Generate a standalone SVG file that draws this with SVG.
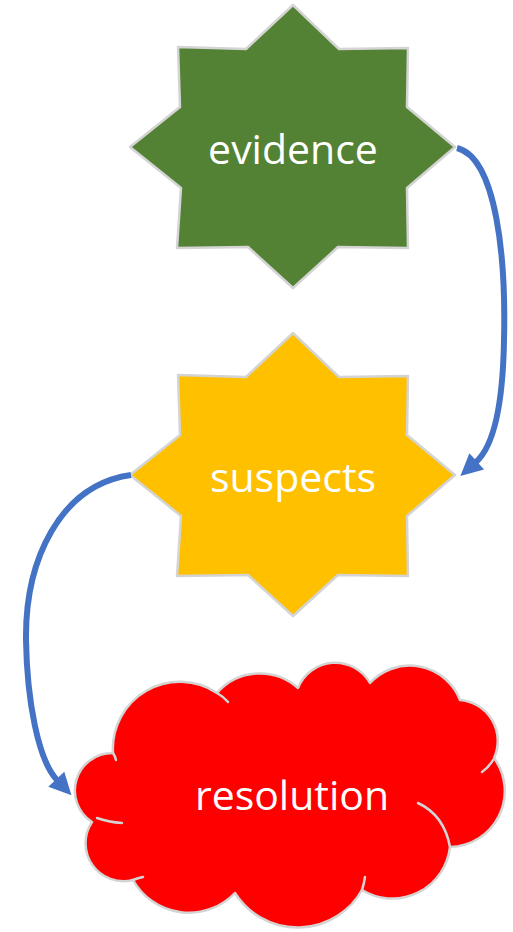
<svg xmlns="http://www.w3.org/2000/svg" width="513" height="932" viewBox="0 0 513 932">
  <style>
    .outline { stroke: #d4d4d4; stroke-width: 2.5; stroke-linejoin: round; }
    .crease { fill: none; stroke: #d4d4d4; stroke-width: 2.5; stroke-linecap: round; }
    .label { font-family: "Open Sans", "Noto Sans", sans-serif; font-size: 41px; fill: #ffffff; text-anchor: middle; }
    .conn { fill: none; stroke: #4472C4; stroke-width: 6; }
  </style>
  <defs>
    <polygon id="star8" points="0,-142 46,-98 115,-99 114,-40 162,0 114,41 115,101 45,100 0,141 -45,100 -116,101 -112,41 -163,0 -113,-40 -115,-100 -47,-98"/>
    <marker id="arrow" markerUnits="userSpaceOnUse" markerWidth="26" markerHeight="26" viewBox="-2 -12 26 24" refX="1" refY="0" orient="auto">
      <path d="M0,-11 L22,0 L0,11 Z" fill="#4472C4"/>
    </marker>
  </defs>
  <rect width="513" height="932" fill="#ffffff"/>

  <g id="evidence">
    <use href="#star8" x="293" y="147" fill="#548235" class="outline"/>
    <text class="label" x="293" y="164">evidence</text>
  </g>

  <g id="suspects">
    <use href="#star8" x="293" y="475" fill="#FFC000" class="outline"/>
    <text class="label" x="293" y="492">suspects</text>
  </g>

  <g id="resolution">
    <path class="outline" fill="#FF0000" d="M113,753 A67,67 0 0 1 217,693 A57,57 0 0 1 298,688 A40,40 0 0 1 370,683 A54,54 0 0 1 460,700 A41,41 0 0 1 494,758 A56,56 0 0 1 450,847 A58,58 0 0 1 362,890 A74,74 0 0 1 235,893 A64,64 0 0 1 133,880 A38,38 0 0 1 92,822 A37.5,37.5 0 0 1 113,753 Z"/>
    <path class="crease" d="M217,693 Q224,697 228,702"/>
    <path class="crease" d="M493,760 Q489,767 482,772"/>
    <path class="crease" d="M418,803 Q444,815 450,847"/>
    <path class="crease" d="M362,890 Q364,884 365,877"/>
    <path class="crease" d="M133,880 Q138,878 143,877"/>
    <path class="crease" d="M97,818 Q108,822 122,823"/>
    <path class="crease" d="M113,753 Q115,756 116,760"/>
    <text class="label" x="292" y="810">resolution</text>
  </g>

  <g id="connectors">
    <path class="conn" d="M457,148 C497,158 506,260 504,340 C503,400 495,445 476,462" marker-end="url(#arrow)"/>
    <path class="conn" d="M131,475 C60,485 25,560 26,640 C27,700 38,760 57,780" marker-end="url(#arrow)"/>
  </g>
</svg>
